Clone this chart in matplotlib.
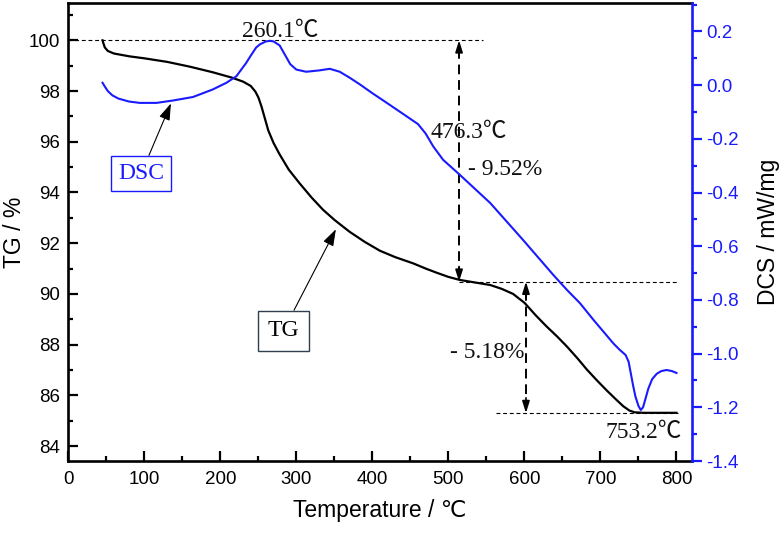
import matplotlib
matplotlib.use("Agg")
import matplotlib.pyplot as plt
from matplotlib.ticker import MultipleLocator

# ---- data ----
tg_temp = [45, 46, 48, 52, 60, 80, 100, 130, 160, 190, 215, 230, 240, 246, 250, 254,
           258, 263, 270, 278, 290, 304, 320, 335, 350, 370, 390, 410, 430, 454, 470,
           485, 500, 515, 535, 555, 570, 585, 600, 615, 629, 643, 656, 670, 682, 695,
           708, 720, 730, 738, 745, 757, 800]
tg_val = [100.0, 99.9, 99.72, 99.58, 99.48, 99.37, 99.29, 99.15, 98.96, 98.74, 98.53,
          98.37, 98.2, 97.98, 97.75, 97.4, 96.98, 96.45, 95.95, 95.5, 94.9, 94.37, 93.8,
          93.32, 92.92, 92.45, 92.05, 91.7, 91.45, 91.2, 91.0, 90.83, 90.67, 90.55,
          90.45, 90.35, 90.2, 90.0, 89.65, 89.15, 88.72, 88.32, 87.92, 87.45, 87.02,
          86.6, 86.2, 85.85, 85.57, 85.4, 85.33, 85.31, 85.31]

dsc_temp = [45, 48, 52, 58, 66, 80, 94, 116, 138, 164, 190, 208, 221, 234, 240, 247,
            252, 260, 265, 270, 278, 286, 292, 300, 313, 330, 344, 357, 370, 384, 400,
            419, 445, 460, 470, 480, 493, 515, 555, 598, 638, 656, 673, 691, 717, 725,
            733, 737, 740, 743, 746, 750, 753, 756, 759, 763, 768, 774, 780, 787, 794, 800]
dsc_val = [0.009, -0.005, -0.022, -0.038, -0.050, -0.061, -0.066, -0.066, -0.057,
           -0.044, -0.016, 0.009, 0.033, 0.083, 0.110, 0.140, 0.152, 0.163, 0.165, 0.163,
           0.148, 0.108, 0.078, 0.058, 0.050, 0.055, 0.061, 0.050, 0.028, 0.002, -0.030,
           -0.066, -0.116, -0.145, -0.180, -0.228, -0.278, -0.334, -0.439, -0.576,
           -0.707, -0.763, -0.812, -0.875, -0.962, -0.985, -1.005, -1.030, -1.075,
           -1.120, -1.160, -1.195, -1.210, -1.200, -1.170, -1.130, -1.095, -1.075,
           -1.065, -1.061, -1.065, -1.072]

tg_levels = [100.0, 90.48, 85.30]          # step levels of mass loss
step_temps = [514, 602]                     # positions of the step arrows
peak_labels = ["260.1℃", "476.3℃", "753.2℃"]
loss_labels = ["- 9.52%", "- 5.18%"]

x_ticks = list(range(0, 900, 100))
tg_ticks = list(range(84, 101, 2))
dsc_ticks = [-1.4, -1.2, -1.0, -0.8, -0.6, -0.4, -0.2, 0.0, 0.2]

BLUE = "#1a1aff"
SANS = ["Liberation Sans", "DejaVu Sans"]
SERIF = ["Liberation Serif", "Noto Sans CJK SC", "DejaVu Serif"]

fig = plt.figure(figsize=(7.79, 5.36), dpi=100)
ax = fig.add_axes([68.3 / 779, 75 / 536, (691.7 - 68.3) / 779, (461 - 3.3) / 536])
ax2 = ax.twinx()

ax.set_xlim(0, 820)
ax.set_ylim(83.41, 101.46)
ax2.set_ylim(-1.40, 0.305)

ax.plot(tg_temp, tg_val, color="black", lw=1.6, zorder=3)
ax2.plot(dsc_temp, dsc_val, color=BLUE, lw=1.5, zorder=3)

# ticks
ax.set_xticks(x_ticks)
ax.xaxis.set_minor_locator(MultipleLocator(50))
ax.set_yticks(tg_ticks)
ax.yaxis.set_minor_locator(MultipleLocator(1))
ax2.set_yticks(dsc_ticks)
ax2.yaxis.set_minor_locator(MultipleLocator(0.1))
ax2.set_yticklabels([f"{v:.1f}" for v in dsc_ticks])

ax.tick_params(axis="both", which="both", direction="in", top=False, right=False,
               width=1.6, labelsize=13.5)
ax.tick_params(which="major", length=7.5)
ax.tick_params(which="minor", length=3.8)
ax.tick_params(axis="x", pad=7)
ax.tick_params(axis="y", pad=6)
ax2.tick_params(axis="y", which="both", direction="out", colors=BLUE, width=1.6,
                labelsize=13.5, pad=3)
ax2.tick_params(which="major", length=7.5)
ax2.tick_params(which="minor", length=3.8)
for lab in ax.get_xticklabels() + ax.get_yticklabels() + ax2.get_yticklabels():
    lab.set_family(SANS)

for s in ["left", "bottom", "top"]:
    ax.spines[s].set_linewidth(1.9)
ax.spines["right"].set_visible(False)
for s in ["left", "bottom", "top"]:
    ax2.spines[s].set_visible(False)
ax2.spines["right"].set_color(BLUE)
ax2.spines["right"].set_linewidth(1.9)

ax.set_xlabel("Temperature / ℃", fontsize=16.5, family=SANS, labelpad=8)
ax.set_ylabel("TG / %", fontsize=16.5, family=SANS, labelpad=2)
ax2.set_ylabel("DCS / mW/mg", fontsize=16.5, family=SANS, labelpad=13, color="black")

# dashed reference levels
dash_kw = dict(color="black", lw=0.8, dashes=(3.5, 2.5), zorder=2)
ax.plot([0, 545], [tg_levels[0]] * 2, **dash_kw)
ax.plot([step_temps[0], 802], [tg_levels[1]] * 2, **dash_kw)
ax.plot([563, 802], [tg_levels[2]] * 2, **dash_kw)

# vertical double arrows (dashed shaft + solid heads)
for x, top, bot in [(step_temps[0], tg_levels[0], tg_levels[1]),
                    (step_temps[1], tg_levels[1], tg_levels[2])]:
    ax.plot([x, x], [top - 0.35, bot + 0.35], color="black", lw=1.4,
            dashes=(5, 3), zorder=2)
    for tip, tail in [(top, top - 0.6), (bot, bot + 0.6)]:
        ax.annotate("", xy=(x, tip), xytext=(x, tail),
                    arrowprops=dict(arrowstyle="-|>,head_length=0.7,head_width=0.22",
                                    color="black", lw=1.2, shrinkA=0, shrinkB=0))

# text annotations
tkw = dict(fontsize=17, family=SERIF, ha="center", va="center", color="#111111")
ax.text(279, 100.34, peak_labels[0], **tkw)
ax.text(527, 96.38, peak_labels[1], **tkw)
ax.text(574, 94.9, loss_labels[0], **tkw)
ax.text(551, 87.67, loss_labels[1], **tkw)
ax.text(757, 84.53, peak_labels[2], **tkw)

# curve labels with arrows
ax2.annotate("DSC", xy=(135, -0.068), xycoords="data",
             xytext=(96, 94.75), textcoords=ax.transData,
             fontsize=17, family=SERIF, color=BLUE, ha="center", va="center",
             bbox=dict(boxstyle="square,pad=0.3", fc="white", ec=BLUE, lw=1.0),
             arrowprops=dict(arrowstyle="-|>,head_length=0.6,head_width=0.2",
                             color="black", lw=0.8, shrinkA=0, shrinkB=0))
ax.annotate("TG", xy=(352, 92.55), xytext=(283, 88.55),
            fontsize=17, family=SERIF, color="black", ha="center", va="center",
            bbox=dict(boxstyle="square,pad=0.4", fc="white", ec="#2f3f4f", lw=1.0),
            arrowprops=dict(arrowstyle="-|>,head_length=0.6,head_width=0.2",
                            color="black", lw=0.8, shrinkA=0, shrinkB=0))

fig.savefig("out.png", dpi=100)
